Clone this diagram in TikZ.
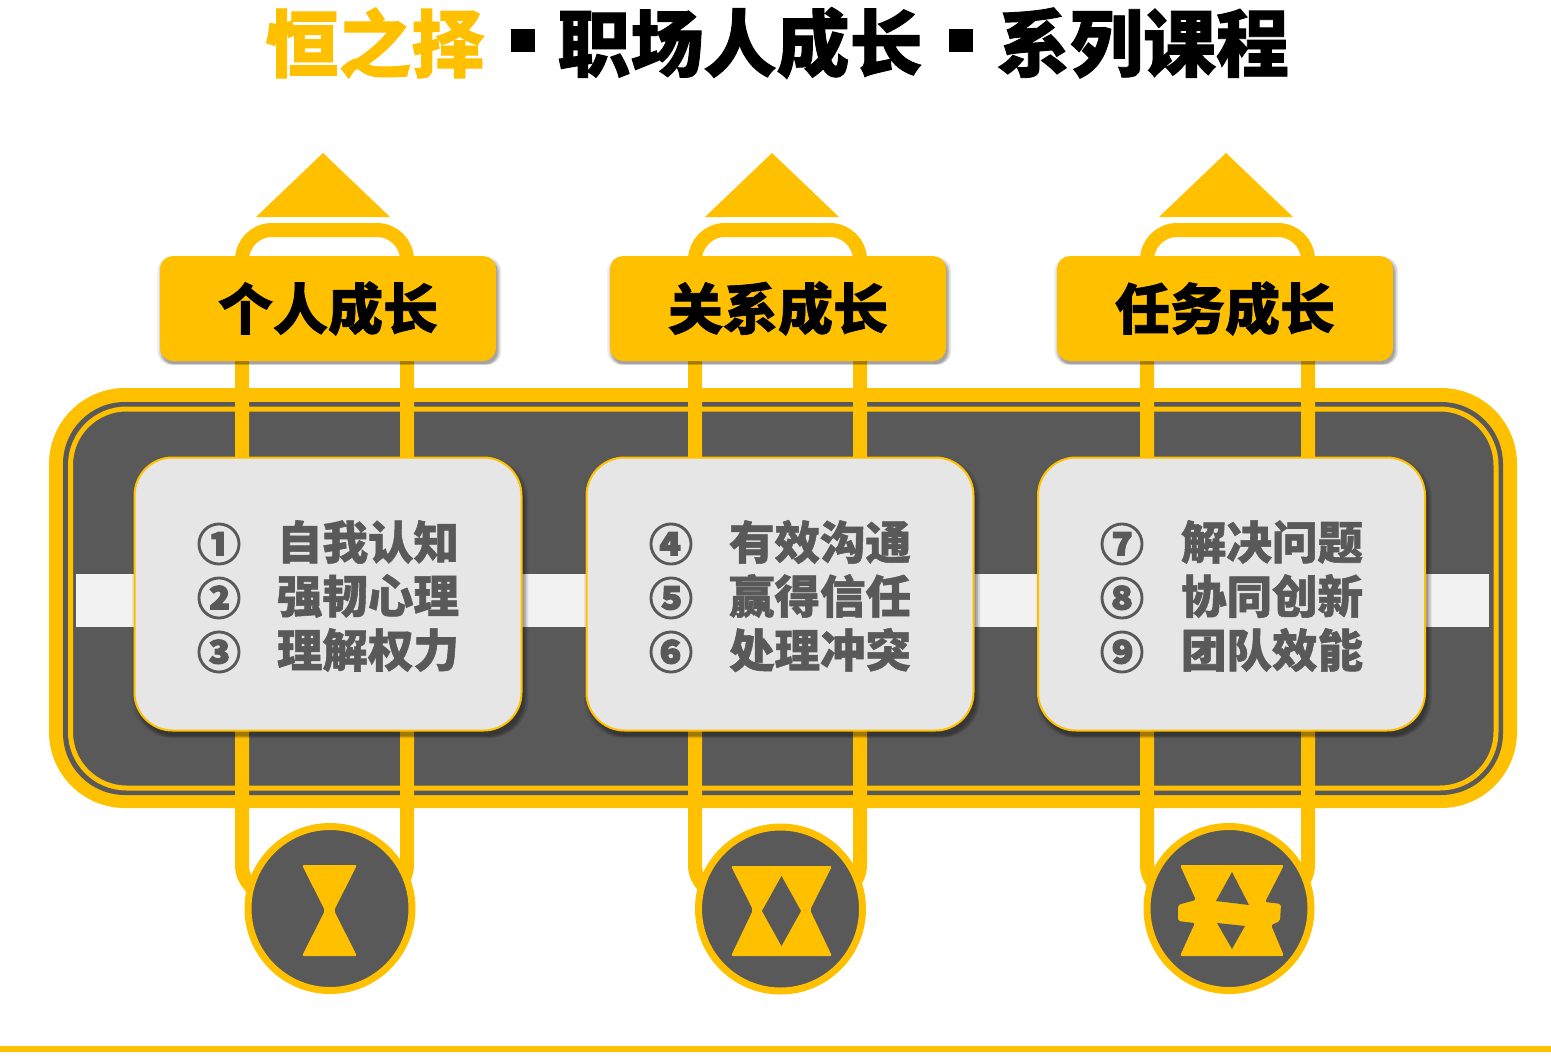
\documentclass[tikz,border=0pt]{standalone}
\usepackage{fontspec}
\usepackage{xcolor}
\usepackage{tikz}
\usetikzlibrary{shadows}
\newfontfamily\cjk[BoldFeatures={FakeBold=1.2}]{Noto Sans CJK SC}
\newfontfamily\cjknum[BoldFeatures={FakeBold=2.5}]{Noto Sans CJK SC}
\definecolor{amber}{HTML}{FFC000}
\definecolor{slate}{HTML}{595959}
\definecolor{mist}{HTML}{E6E6E6}
\definecolor{band}{HTML}{F2F2F2}
\tikzset{
	softshadow/.style = {
		drop shadow = {shadow xshift = #1*0.3pt, shadow yshift = -#1*0.6pt, shadow scale = 1.024, opacity = 0.06, fill = black},
		drop shadow = {shadow xshift = #1*0.4pt, shadow yshift = -#1*0.7pt, shadow scale = 1.016, opacity = 0.09, fill = black},
		drop shadow = {shadow xshift = #1*0.4pt, shadow yshift = -#1*0.8pt, shadow scale = 1.008, opacity = 0.12, fill = black},
		drop shadow = {shadow xshift = #1*0.4pt, shadow yshift = -#1*0.8pt, shadow scale = 1.0, opacity = 0.15, fill = black}},
	titletext/.style = {font = \cjk\bfseries\fontsize{73}{73}\selectfont, inner sep = 0pt},
	titlemark/.style = {rectangle, fill = black, minimum width = 24pt, minimum height = 23pt, inner sep = 0pt},
	headbox/.style = {rectangle, rounded corners = 13pt, fill = amber, minimum width = 336pt, minimum height = 105pt,
		inner sep = 0pt, softshadow = 4, font = \cjk\bfseries\fontsize{55}{55}\selectfont},
	topicbox/.style = {rectangle, rounded corners = 38pt, fill = mist, draw = amber, line width = 2pt,
		minimum width = 387pt, minimum height = 273pt, inner sep = 0pt, softshadow = 7},
	numtext/.style = {font = \cjknum\bfseries\fontsize{44}{44}\selectfont, text = slate, inner sep = 0pt},
	itemtext/.style = {font = \cjk\bfseries\fontsize{45.5}{45.5}\selectfont, text = slate, inner sep = 0pt},
	badge/.style = {circle, fill = slate, draw = amber, line width = 7pt, minimum size = 164pt, inner sep = 0pt},
	loopline/.style = {draw = amber, line width = 14pt, rounded corners = 30pt}
}
\begin{document}
\begin{tikzpicture}[x=1pt, y=-1pt]
	\useasboundingbox (0,0) rectangle (1551,1063);
	% title
	\node[titletext, text = amber] (T1) at (375,43) {恒之择};
	\node[titlemark] (S1) at (523,40) {};
	\node[titletext] (T2) at (740,43) {职场人成长};
	\node[titlemark] (S2) at (960.5,40) {};
	\node[titletext] (T3) at (1143,43) {系列课程};
	% road
	\fill[amber] (49,388) [rounded corners = 76pt] rectangle (1517,808);
	\fill[slate] (63,402) [rounded corners = 62pt] rectangle (1503,795);
	\draw[amber, line width = 5pt, fill = slate, rounded corners = 56pt] (70.5,409) rectangle (1496,788);
	\fill[band] (76,574) rectangle (1489,627);
	% loops and arrow heads
	\foreach \tipx/\leftx/\rightx in {323/242/407, 772/695/860, 1226/1147/1308} {
		\coordinate (LA) at (\leftx,230);
		\coordinate (LB) at (\rightx,895);
		\draw[loopline] (LA) rectangle (LB);
		\fill[amber] (\tipx,153) -- (\tipx+67,217) -- (\tipx-67,217) -- cycle;
	}
	% headers
	\node[headbox] (H1) at (328,308.5) {个人成长};
	\node[headbox] (H2) at (778,308.5) {关系成长};
	\node[headbox] (H3) at (1225,308.5) {任务成长};
	% topics
	\node[topicbox] (B1) at (328,594) {};
	\node[topicbox] (B2) at (780,594) {};
	\node[topicbox] (B3) at (1231.5,594) {};
	\foreach \numx/\textx/\na/\nb/\nc/\ta/\tb/\tc in {
		219/368/①/②/③/自我认知/强韧心理/理解权力,
		671/820/④/⑤/⑥/有效沟通/赢得信任/处理冲突,
		1122/1272/⑦/⑧/⑨/解决问题/协同创新/团队效能} {
		\node[numtext] (NA\numx) at (\numx,544) {\na};
		\node[numtext] (NB\numx) at (\numx,598) {\nb};
		\node[numtext] (NC\numx) at (\numx,652) {\nc};
		\node[itemtext] (IA\numx) at (\textx,542) {\ta};
		\node[itemtext] (IB\numx) at (\textx,596) {\tb};
		\node[itemtext] (IC\numx) at (\textx,650) {\tc};
	}
	% badges
	\node[badge] (C1) at (330,908.5) {};
	\node[badge] (C2) at (780.5,909) {};
	\node[badge] (C3) at (1229,908.5) {};
	\begin{scope}[rounded corners = 2pt]
		\fill[amber] (302,865) -- (357,865) -- (334,910.5) -- (357,956) -- (302,956) -- (325,910.5) -- cycle;
		\fill[amber] (731,866) -- (832,866) -- (810,910) -- (832,956) -- (731,956) -- (753,910) -- cycle;
		\fill[amber] (1180,865) -- (1284,865) -- (1265,902) -- (1281,904) -- (1280,921) -- (1271,925)
			-- (1284,956) -- (1180,956) -- (1195,923) -- (1178,921) -- (1178,905) -- (1196,900) -- cycle;
	\end{scope}
	\fill[slate] (781.5,876) -- (801,911) -- (781.5,946) -- (762,911) -- cycle;
	\fill[slate] (1232,872) -- (1249,905) -- (1216,901) -- cycle;
	\fill[slate] (1217,923) -- (1245,926) -- (1232,949) -- cycle;
	% rule
	\fill[amber] (0,1045.5) rectangle (1551,1052);
\end{tikzpicture}
\end{document}
